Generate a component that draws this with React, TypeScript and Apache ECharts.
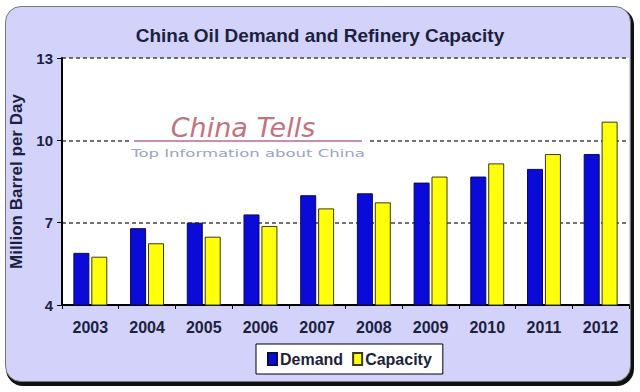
import React, { useEffect, useRef } from "react";
import * as echarts from "echarts";

const years = ["2003", "2004", "2005", "2006", "2007", "2008", "2009", "2010", "2011", "2012"];
const demand = [5.9, 6.8, 7.0, 7.3, 8.0, 8.07, 8.46, 8.68, 8.96, 9.5];
const capacity = [5.76, 6.25, 6.49, 6.88, 7.52, 7.74, 8.68, 9.16, 9.5, 10.68];
const titleText = "China Oil Demand and Refinery Capacity";
const yAxisName = "Million Barrel per Day";

export default function App() {
  const ref = useRef<HTMLDivElement>(null);
  useEffect(() => {
    if (!ref.current) return;
    const chart = echarts.init(ref.current, null, { renderer: "svg" });
    const font = "'Liberation Sans', Arial, sans-serif";
    const dark = "#1c1f3e";
    chart.setOption({
      animation: false,
      backgroundColor: "transparent",
      title: {
        text: titleText,
        left: "center",
        top: 21,
        textStyle: { fontFamily: font, fontSize: 19, fontWeight: "bold", color: dark },
      },
      legend: {
        left: 256,
        top: 344,
        backgroundColor: "#ffffff",
        borderColor: "#000000",
        borderWidth: 1,
        borderRadius: 0,
        padding: [7, 11],
        itemGap: 9,
        itemWidth: 9,
        itemHeight: 12,
        textStyle: { fontFamily: font, fontSize: 16, fontWeight: "bold", color: dark, padding: [0, 0, 0, -2] },
        data: [
          { name: "Demand", icon: "rect" },
          { name: "Capacity", icon: "rect" },
        ],
      },
      grid: {
        left: 62,
        right: 11,
        top: 58,
        bottom: 87,
        show: true,
        backgroundColor: "#ffffff",
        borderWidth: 0,
      },
      xAxis: {
        type: "category",
        data: years,
        axisLine: { lineStyle: { color: "#000", width: 2 } },
        axisTick: { show: true, length: 4, lineStyle: { color: "#000" } },
        axisLabel: { fontFamily: font, fontSize: 16, fontWeight: "bold", color: dark, margin: 14 },
      },
      yAxis: {
        type: "value",
        min: 4,
        max: 13,
        interval: 3,
        name: yAxisName,
        nameLocation: "middle",
        nameGap: 25,
        nameTextStyle: { fontFamily: font, fontSize: 17, fontWeight: "bold", color: dark },
        axisLine: { show: true, lineStyle: { color: "#000", width: 2 } },
        axisTick: { show: true, length: 5, lineStyle: { color: "#000" } },
        axisLabel: { fontFamily: font, fontSize: 15, fontWeight: "bold", color: dark, margin: 9 },
        splitLine: { show: true, lineStyle: { color: "#444", width: 1.5, type: [4, 3] } },
      },
      graphic: [
        {
          type: "rect",
          shape: { x: 130, y: 137, width: 238, height: 7 },
          style: { fill: "#ffffff" },
          z: 10,
        },
        {
          type: "line",
          shape: { x1: 134, y1: 141, x2: 362, y2: 141 },
          style: { stroke: "#c98fb3", lineWidth: 2 },
          z: 11,
        },
        {
          type: "text",
          x: 243,
          y: 127,
          z: 11,
          style: {
            text: "China Tells",
            fontFamily: "'DejaVu Sans', sans-serif",
            fontStyle: "italic",
            fontSize: 27,
            fill: "#c3727f",
            align: "center",
            verticalAlign: "middle",
          },
        },
        {
          type: "text",
          x: 248,
          y: 153,
          z: 11,
          scaleX: 1.5,
          style: {
            text: "Top Information about China",
            fontFamily: "'DejaVu Sans', sans-serif",
            fontSize: 11,
            fill: "#9aa4c6",
            align: "center",
            verticalAlign: "middle",
          },
        },
      ],
      series: [
        {
          name: "Demand",
          type: "bar",
          data: demand,
          barWidth: 16,
          barGap: "12%",
          itemStyle: { color: "#0b0bd9", borderColor: "#0a0a50", borderWidth: 1 },
        },
        {
          name: "Capacity",
          type: "bar",
          data: capacity,
          barWidth: 16,
          itemStyle: { color: "#ffff0a", borderColor: "#3a3a10", borderWidth: 1 },
        },
      ],
    });
    return () => chart.dispose();
  }, []);

  return (
    <div style={{ position: "fixed", left: 0, top: 0, width: 640, height: 392, background: "#ffffff" }}>
      <div
        style={{
          position: "absolute",
          left: 5,
          top: 6,
          width: 624,
          height: 374,
          background: "#d2d2fb",
          border: "1px solid #777",
          borderRadius: 16,
          boxShadow: "2px 3px 0 1px #111",
        }}
      />
      <div ref={ref} style={{ position: "absolute", left: 0, top: 0, width: 640, height: 392 }} />
    </div>
  );
}
